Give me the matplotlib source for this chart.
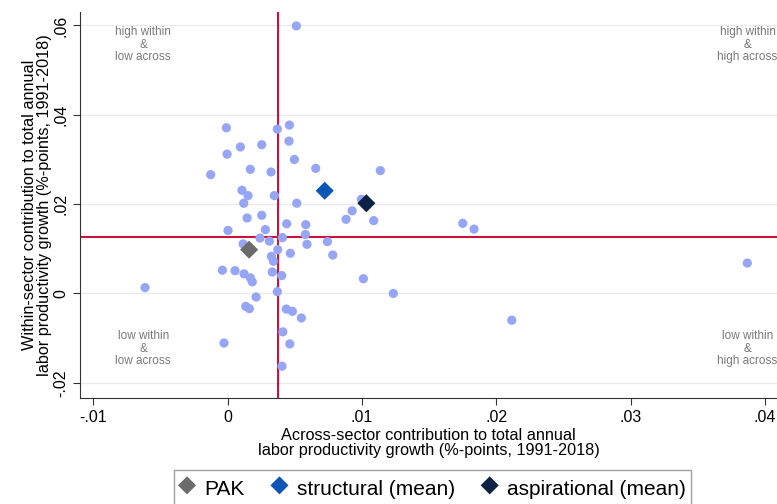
import matplotlib
matplotlib.use("Agg")
import matplotlib.pyplot as plt
import numpy as np

plt.rcParams['font.family'] = ['Liberation Sans', 'DejaVu Sans']

# country points: across-sector (x) vs within-sector (y) contribution
across = [0.00511, -0.0001, 0.00369, 0.00459, 0.00094, 0.00253, 0.00456, -0.00005,
          0.00496, -0.00127, 0.00168, 0.00322, 0.00655, 0.01136, 0.00106, 0.00151,
          0.00347, 0.00119, 0.00514, 0.00995, 0.00253, 0.00144, 0.00926, 0.00881,
          0.01087, 0.00439, 0.00581, 0.00002, 0.0028, 0.00578, 0.0024, 0.0031,
          0.00407, 0.00114, 0.0059, 0.00742, 0.00372, 0.00466, 0.00782, 0.00325,
          0.0034, -0.0004, 0.00054, 0.00121, 0.00168, 0.00183, 0.00332, 0.00402,
          0.0101, -0.00616, 0.00369, 0.00211, 0.01233, 0.00134, 0.00161, 0.00436,
          0.00481, 0.00548, 0.0041, -0.00028, 0.00462, 0.00404, 0.0175, 0.01834,
          0.03869, 0.02115]
within = [0.0599, 0.0371, 0.0368, 0.0377, 0.0328, 0.0333, 0.0341, 0.0312,
          0.0300, 0.0266, 0.0278, 0.0272, 0.0280, 0.0275, 0.0231, 0.0219,
          0.0219, 0.0202, 0.0202, 0.0211, 0.0175, 0.0169, 0.0185, 0.0166,
          0.0163, 0.0156, 0.0154, 0.0141, 0.0143, 0.0132, 0.0124, 0.0117,
          0.0125, 0.0111, 0.0110, 0.0116, 0.0098, 0.0090, 0.0086, 0.0083,
          0.0072, 0.0052, 0.0051, 0.0044, 0.0035, 0.0026, 0.0048, 0.0040,
          0.0033, 0.0013, 0.0004, -0.0008, 0.0000, -0.0029, -0.0034, -0.0035,
          -0.0040, -0.0055, -0.0086, -0.0111, -0.0113, -0.0163, 0.0157, 0.0144,
          0.0068, -0.0060]

pak = (0.00159, 0.0098)
structural = (0.00722, 0.0230)
aspirational = (0.01032, 0.0202)

# reference lines (medians)
x_ref = 0.00372
y_ref = 0.01254

xticks = [-0.01, 0, 0.01, 0.02, 0.03, 0.04]
xticklabels = ['-.01', '0', '.01', '.02', '.03', '.04']
yticks = [-0.02, 0, 0.02, 0.04, 0.06]
yticklabels = ['-.02', '0', '.02', '.04', '.06']

fig = plt.figure(figsize=(7.77, 5.04), dpi=100)
ax = fig.add_axes([0.103, 0.210, 0.897, 0.766])

for yt in yticks:
    ax.axhline(yt, color='#ebebeb', lw=1.0, zorder=0)

ax.axvline(x_ref, color='#c8143c', lw=1.5, zorder=1)
ax.axhline(y_ref, color='#c8143c', lw=1.5, zorder=1)

ax.scatter(across, within, s=44, color='#97a5f6', edgecolors='none', zorder=2)
ax.scatter(*pak, marker='D', s=85, color='#6b6b6b', edgecolors='none', zorder=3, label='PAK')
ax.scatter(*structural, marker='D', s=85, color='#0a55b5', edgecolors='none', zorder=3, label='structural (mean)')
ax.scatter(*aspirational, marker='D', s=85, color='#0b2244', edgecolors='none', zorder=3, label='aspirational (mean)')

qkw = dict(ha='center', va='center', fontsize=8.5, color='#7a7a7a', linespacing=1.05)
ax.text(-0.0063, 0.0557, 'high within\n&\nlow across', **qkw)
ax.text(0.0387, 0.0557, 'high within\n&\nhigh across', **qkw)
ax.text(-0.0063, -0.01236, 'low within\n&\nlow across', **qkw)
ax.text(0.0387, -0.01236, 'low within\n&\nhigh across', **qkw)

ax.set_xlim(-0.0110, 0.0409)
ax.set_ylim(-0.02345, 0.0630)
ax.set_xticks(xticks)
ax.set_xticklabels(xticklabels)
ax.set_yticks(yticks)
ax.set_yticklabels(yticklabels, rotation=90, va='center')
ax.tick_params(direction='out', length=5, labelsize=11.5, color='#333333')

for s in ['top', 'right']:
    ax.spines[s].set_visible(False)
for s in ['left', 'bottom']:
    ax.spines[s].set_color('#333333')

ax.set_xlabel('Across-sector contribution to total annual\nlabor productivity growth (%-points, 1991-2018)',
              fontsize=11.7, labelpad=2, linespacing=0.98)
ax.set_ylabel('Within-sector contribution to total annual\nlabor productivity growth (%-points, 1991-2018)',
              fontsize=11.7, labelpad=1, linespacing=0.98)

fig.legend(loc='upper center', bbox_to_anchor=(0.5566, 0.0675), ncol=3, fontsize=15,
           frameon=True, fancybox=False, edgecolor='#888888', handletextpad=0.45,
           columnspacing=1.3, borderpad=0.25, handlelength=0.75, handleheight=1.6,
           borderaxespad=0)

fig.savefig('out.png', dpi=100)
